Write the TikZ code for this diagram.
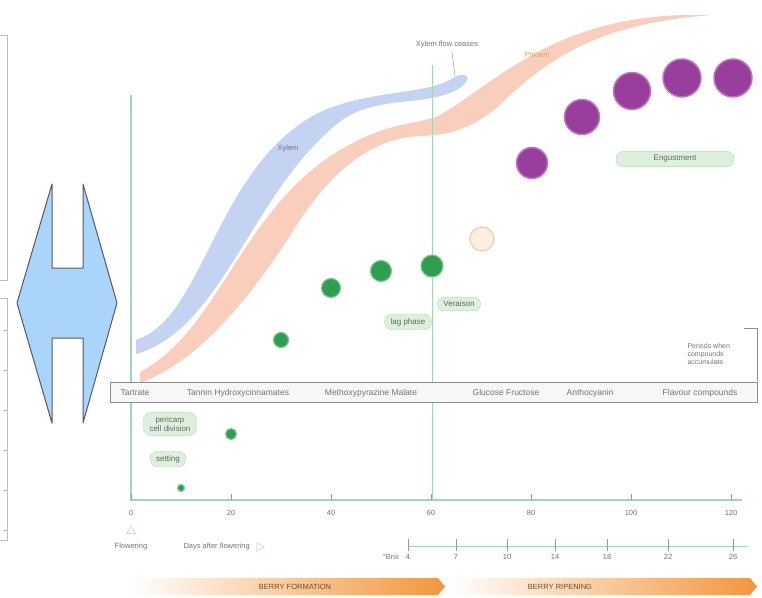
\documentclass[tikz,border=0pt]{standalone}
\usepackage{fontspec}
\setmainfont{Liberation Sans}
\usepackage{tikz}
\usetikzlibrary{arrows, positioning, shapes.geometric}

\definecolor{axisgreen}{HTML}{9ED9B2}
\definecolor{berrygreen}{HTML}{2E9E4F}
\definecolor{tagfill}{HTML}{DCF0DC}
\definecolor{tagdraw}{HTML}{B3D9B5}
\definecolor{xylemblue}{HTML}{B9CBEE}
\definecolor{phloemred}{HTML}{F8C2AC}
\definecolor{grapepurple}{HTML}{9A3E9E}
\definecolor{ripeorange}{HTML}{F3963C}
\definecolor{shapeblue}{HTML}{A9D5FB}

\tikzset{
	tag/.style = {draw=tagdraw, fill=tagfill, rounded corners=7pt, font=\fontsize{8}{9}\selectfont, text=black!60, inner xsep=6pt, inner ysep=4pt, align=center},
	berry/.style = {circle, draw=berrygreen!60, fill=berrygreen, line width=1.2pt, inner sep=0pt},
	grape/.style = {circle, draw=grapepurple!70, fill=grapepurple, line width=1.5pt, inner sep=0pt},
	compound/.style = {font=\fontsize{8.5}{9}\selectfont, text=black!55, anchor=base},
	ticklbl/.style = {font=\fontsize{7.5}{8}\selectfont, text=black!55},
	stage/.style = {font=\fontsize{7.5}{8}\selectfont, text=brown!60!black}
}

\begin{document}
\begin{tikzpicture}[x=1pt, y=-1pt]
	\useasboundingbox (0,0) rectangle (762,597);

	% cut-off frames on the left
	\draw[black!25] (0,35) -- (7,35) -- (7,280) -- (0,280);
	\draw[black!25] (0,298) -- (7,298) -- (7,540) -- (0,540);
	\foreach \y in {330,370,410,450,490,530} \draw[black!25] (3,\y) -- (7,\y);

	% blue shape
	\draw[black!65, fill=shapeblue, line width=1pt, line join=round]
		(52,184) -- (52,268) -- (83,268) -- (83,184) -- (117,303) -- (83,423) -- (83,338)
		-- (52,338) -- (52,423) -- (17,303) -- cycle;

	% xylem and phloem bands
	\fill[xylemblue, opacity=0.85] (136,340) .. controls (205,318) and (215,165) .. (320,112)
		.. controls (370,90) and (420,95) .. (450,80) .. controls (460,72) and (472,74) .. (466,82)
		.. controls (460,90) and (450,94) .. (432,98) .. controls (400,104) and (360,100) .. (330,130)
		.. controls (250,200) and (220,330) .. (136,354) -- cycle;
	\fill[phloemred, opacity=0.8] (140,372) .. controls (220,330) and (240,210) .. (340,150)
		.. controls (390,120) and (420,125) .. (440,115) .. controls (500,80) and (560,10) .. (712,15)
		.. controls (620,22) and (560,45) .. (500,105) .. controls (470,130) and (450,135) .. (420,136)
		.. controls (380,138) and (340,160) .. (300,220) .. controls (250,300) and (200,360) .. (140,383) -- cycle;

	% axes
	\draw[axisgreen, line width=1.2pt] (131,95) -- (131,500) -- (742,500);
	\draw[axisgreen, line width=1pt] (432,65) -- (432,500);
	\foreach \d in {0,20,...,120} {
		\draw[black!40] (131+5*\d,494) -- (131+5*\d,500);
		\node[ticklbl] (d\d) at (131+5*\d,513) {\d};
	}

	% flowering marks
	\node[ticklbl] (flw) at (131,547) {Flowering};
	\node[draw=axisgreen, regular polygon, regular polygon sides=3, inner sep=1.8pt] (flwmark) at (131,531) {};
	\node[ticklbl, anchor=west] (daf) at (180,547) {Days after flowering};
	\node[draw=axisgreen, regular polygon, regular polygon sides=3, shape border rotate=-90, inner sep=1.8pt, right=3pt of daf] (dafmark) {};

	% brix scale
	\draw[axisgreen, line width=0.8pt] (408,546) -- (748,546);
	\foreach \x/\b in {408/4,456/7,507/10,555/14,607/18,668/22,733/26} {
		\draw[black!40] (\x,539) -- (\x,551);
		\node[ticklbl] (b\b) at (\x,557) {\b};
	}
	\node[ticklbl, left=0pt of b4] (brix) {°Brix};

	% phase arrows
	\shade[left color=white, right color=ripeorange] (130,578) -- (438,578) -- (445,586.5) -- (438,595) -- (130,595) -- cycle;
	\shade[left color=white, right color=ripeorange] (450,578) -- (750,578) -- (757,586.5) -- (750,595) -- (450,595) -- cycle;
	\node[stage] (form) at (295,587) {BERRY FORMATION};
	\node[stage] (ripe) at (560,587) {BERRY RIPENING};

	% compound bar
	\node[draw=black!45, fill=black!3, minimum width=647pt, minimum height=20pt, inner sep=0pt] (bar) at (433.5,392) {};
	\node[compound] (c1) at (135,395.5) {Tartrate};
	\node[compound] (c2) at (238,395.5) {Tannin Hydroxycinnamates};
	\node[compound] (c3) at (371,395.5) {Methoxypyrazine Malate};
	\node[compound] (c4) at (506,395.5) {Glucose Fructose};
	\node[compound] (c5) at (590,395.5) {Anthocyanin};
	\node[compound] (c6) at (700,395.5) {Flavour compounds};

	% periods bracket
	\node[ticklbl, align=left, anchor=west, font=\fontsize{7}{8}\selectfont] (periods) at (684,354) {Periods when\\compounds\\accumulate};
	\coordinate (brtop) at (757,328);
	\coordinate (brbot) at (757,381);
	\draw[black!45] (744,328) -- (brtop) -- (brbot);

	% berries
	\node[berry, minimum size=7pt] (g10) at (181,488) {};
	\node[berry, minimum size=11pt] (g20) at (231,434) {};
	\node[berry, minimum size=15pt] (g30) at (281,340) {};
	\node[berry, minimum size=19pt] (g40) at (331,288) {};
	\node[berry, minimum size=21pt] (g50) at (381,271) {};
	\node[berry, minimum size=22pt] (g60) at (432,266) {};
	\node[circle, draw=ripeorange!50, fill=ripeorange!15, line width=1.2pt, minimum size=24pt] (g70) at (482,239) {};
	\node[grape, minimum size=31pt] (g80) at (532,163) {};
	\node[grape, minimum size=35pt] (g90) at (582,117) {};
	\node[grape, minimum size=37pt] (g100) at (632,91) {};
	\node[grape, minimum size=38pt] (g110) at (682,78) {};
	\node[grape, minimum size=38pt] (g120) at (733,78) {};

	% stage tags
	\node[tag] (cell) at (170,424) {pericarp\\cell division};
	\node[tag] (setting) at (168,459) {setting};
	\node[tag] (lag) at (408,322) {lag phase};
	\node[tag] (ver) at (459,304) {Veraison};
	\node[tag, minimum width=118pt] (eng) at (675,159) {Engustment};

	% band labels
	\node[ticklbl, font=\fontsize{7.5}{8}\selectfont] (xyl) at (288,149) {Xylem};
	\node[ticklbl, font=\fontsize{7.5}{8}\selectfont, text=brown!70] (phl) at (537,55) {Phloem};
	\node[ticklbl, font=\fontsize{7.5}{8}\selectfont] (cease) at (447,45) {Xylem flow ceases};
	\coordinate (blob) at (455,76);
	\draw[black!45] (cease.south) ++(5,0) -- (blob);
\end{tikzpicture}
\end{document}
